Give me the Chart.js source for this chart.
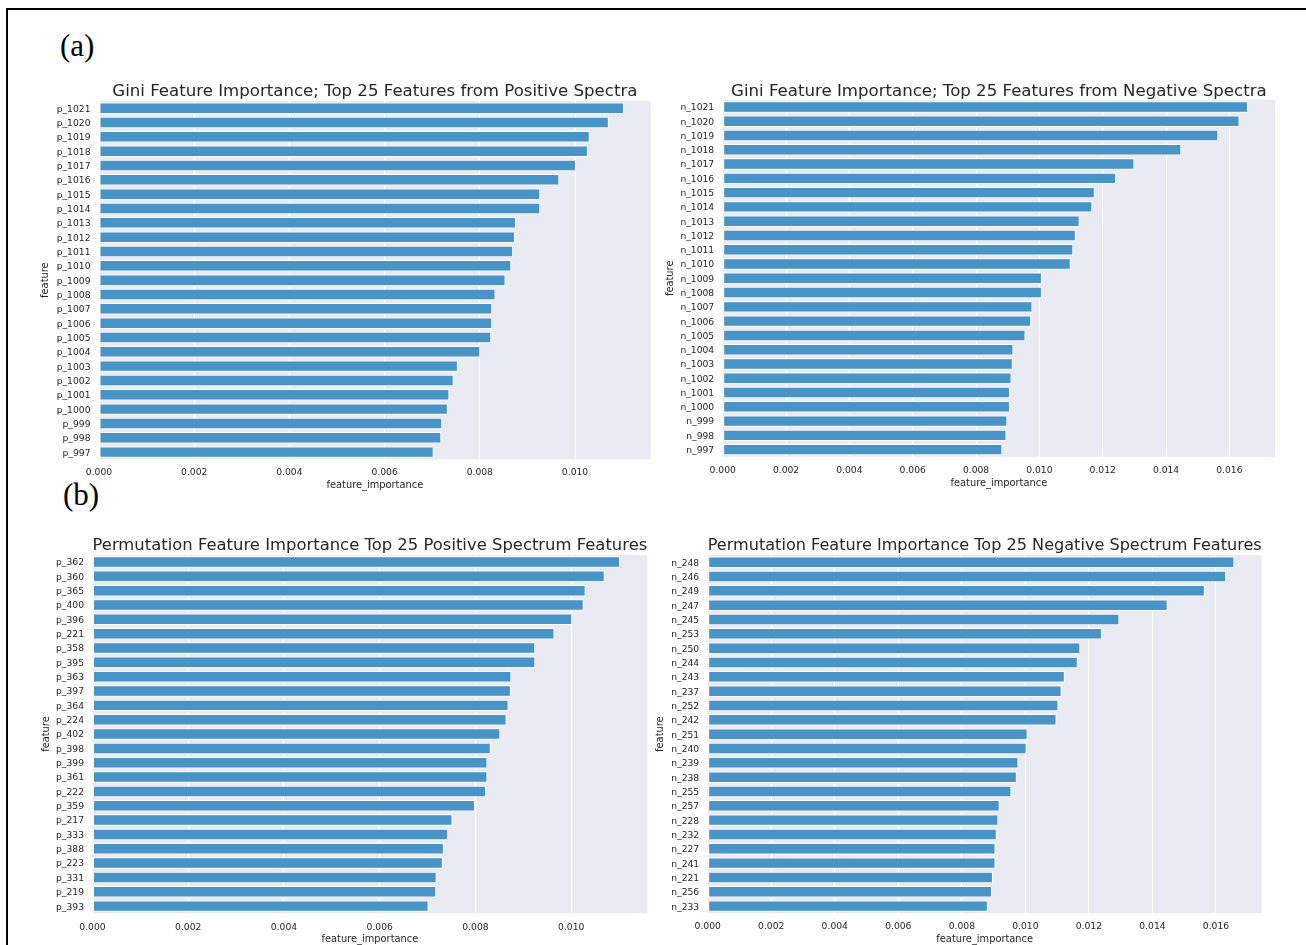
<!DOCTYPE html>
<html>
<head>
<meta charset="utf-8">
<title>Feature importance</title>
<script src="https://cdn.jsdelivr.net/npm/chart.js@4/dist/chart.umd.min.js"></script>
<style>
  html, body { margin: 0; padding: 0; background: #ffffff; }
  body { width: 1306px; height: 945px; position: relative; overflow: hidden; }
  .frame { position: absolute; left: 6px; top: 8px; width: 1400px; height: 1000px;
           border-top: 2px solid #000; border-left: 2px solid #000; box-sizing: border-box; }
  .tag { position: absolute; font-family: "Liberation Serif", "Times New Roman", serif;
         font-size: 31px; line-height: 31px; color: #000; white-space: nowrap; }
  canvas { position: absolute; }
</style>
</head>
<body>
<div class="frame"></div>
<div class="tag" style="left:60px; top:29.5px;">(a)</div>
<div class="tag" style="left:63px; top:479px;">(b)</div>
<canvas id="giniPos"></canvas>
<canvas id="giniNeg"></canvas>
<canvas id="permPos"></canvas>
<canvas id="permNeg"></canvas>

<script>
// ---- data -------------------------------------------------------------
const giniPosFeatures = ['p_1021','p_1020','p_1019','p_1018','p_1017','p_1016','p_1015','p_1014','p_1013',
  'p_1012','p_1011','p_1010','p_1009','p_1008','p_1007','p_1006','p_1005','p_1004','p_1003','p_1002',
  'p_1001','p_1000','p_999','p_998','p_997'];
const giniPosValues = [0.01103, 0.01071, 0.01031, 0.01027, 0.01002, 0.00967, 0.00927, 0.00927, 0.00876,
  0.00874, 0.00870, 0.00866, 0.00854, 0.00833, 0.00826, 0.00826, 0.00824, 0.00801, 0.00754, 0.00745,
  0.00736, 0.00733, 0.00721, 0.00719, 0.00703];

const giniNegFeatures = ['n_1021','n_1020','n_1019','n_1018','n_1017','n_1016','n_1015','n_1014','n_1013',
  'n_1012','n_1011','n_1010','n_1009','n_1008','n_1007','n_1006','n_1005','n_1004','n_1003','n_1002',
  'n_1001','n_1000','n_999','n_998','n_997'];
const giniNegValues = [0.01659, 0.01632, 0.01565, 0.01448, 0.01300, 0.01242, 0.01175, 0.01167, 0.01127,
  0.01115, 0.01107, 0.01099, 0.01008, 0.01008, 0.00978, 0.00974, 0.00956, 0.00918, 0.00916, 0.00912,
  0.00907, 0.00907, 0.00899, 0.00896, 0.00883];

const permPosFeatures = ['p_362','p_360','p_365','p_400','p_396','p_221','p_358','p_395','p_363','p_397',
  'p_364','p_224','p_402','p_398','p_399','p_361','p_222','p_359','p_217','p_333','p_388','p_223',
  'p_331','p_219','p_393'];
const permPosValues = [0.01102, 0.01070, 0.01030, 0.01026, 0.01002, 0.00965, 0.00925, 0.00925, 0.00875,
  0.00874, 0.00869, 0.00865, 0.00852, 0.00832, 0.00825, 0.00825, 0.00822, 0.00799, 0.00752, 0.00743,
  0.00734, 0.00732, 0.00719, 0.00718, 0.00702];

const permNegFeatures = ['n_248','n_246','n_249','n_247','n_245','n_253','n_250','n_244','n_243','n_237',
  'n_252','n_242','n_251','n_240','n_239','n_238','n_255','n_257','n_228','n_232','n_227','n_241',
  'n_221','n_256','n_233'];
const permNegValues = [0.01658, 0.01632, 0.01565, 0.01448, 0.01296, 0.01241, 0.01173, 0.01165, 0.01124,
  0.01114, 0.01104, 0.01098, 0.01007, 0.01004, 0.00978, 0.00973, 0.00956, 0.00919, 0.00915, 0.00910,
  0.00906, 0.00906, 0.00898, 0.00895, 0.00882];

// x-axis upper limits (max value with a 5% margin)
const posAxisMax = 0.01159;
const negAxisMax = 0.01744;
const tickStep = 0.002;

// ---- styling ----------------------------------------------------------
const FONT = "'DejaVu Sans', 'Liberation Sans', sans-serif";
const TEXT = '#262626';
const BAR = '#4994c6';
const PLOT_BG = '#eaeaf2';
const TITLE_SIZE = 16.6, TICK_SIZE = 9.2, LABEL_SIZE = 9.85, LH = 1.2;
// canvas 'middle' baseline sits a little above the visual glyph centre
const TITLE_NUDGE = 2, XTICK_NUDGE = 2, YTICK_NUDGE = 1, XTITLE_NUDGE = 1;

// page placement of each panel: plot box edges and text centre lines
const panels = [
  { id: 'giniPos', title: 'Gini Feature Importance; Top 25 Features from Positive Spectra',
    labels: giniPosFeatures, values: giniPosValues, xMax: posAxisMax,
    box: { featureX: 46, left: 99, right: 650.7, top: 101, bottom: 459.3, titleY: 90, tickY: 470.5, xTitleY: 484 } },
  { id: 'giniNeg', title: 'Gini Feature Importance; Top 25 Features from Negative Spectra',
    labels: giniNegFeatures, values: giniNegValues, xMax: negAxisMax,
    box: { featureX: 671, left: 722.7, right: 1275, top: 99.8, bottom: 456.8, titleY: 89.5, tickY: 469, xTitleY: 482 } },
  { id: 'permPos', title: 'Permutation Feature Importance Top 25 Positive Spectrum Features',
    labels: permPosFeatures, values: permPosValues, xMax: posAxisMax,
    box: { featureX: 46.5, left: 92.5, right: 647.3, top: 554.8, bottom: 913.3, titleY: 544, tickY: 925.5, xTitleY: 938 } },
  { id: 'permNeg', title: 'Permutation Feature Importance Top 25 Negative Spectrum Features',
    labels: permNegFeatures, values: permNegValues, xMax: negAxisMax,
    box: { featureX: 661, left: 707.7, right: 1261.7, top: 555, bottom: 913.3, titleY: 544, tickY: 925, xTitleY: 938 } }
];

// grey plotting area behind the grid and bars
const plotBackground = {
  id: 'plotBackground',
  beforeDraw(chart) {
    const { ctx, chartArea: a } = chart;
    ctx.save();
    ctx.fillStyle = PLOT_BG;
    ctx.fillRect(a.left, a.top, a.right - a.left, a.bottom - a.top);
    ctx.restore();
  }
};

function drawPanel(p) {
  const b = p.box;
  const titleLH = TITLE_SIZE * LH, labelLH = LABEL_SIZE * LH, tickLH = TICK_SIZE * LH;
  const titleY = b.titleY + TITLE_NUDGE;
  const xTitleY = b.xTitleY + XTITLE_NUDGE;
  const left = Math.round(b.featureX - labelLH / 2);
  const top = Math.floor(titleY - titleLH / 2);
  const width = Math.ceil(b.right + 4 - left);
  const height = Math.ceil(xTitleY + labelLH / 2 - top);

  const canvas = document.getElementById(p.id);
  canvas.width = width;
  canvas.height = height;
  canvas.style.left = left + 'px';
  canvas.style.top = top + 'px';
  canvas.style.width = width + 'px';
  canvas.style.height = height + 'px';

  const titlePadTop = titleY - titleLH / 2 - top;
  const titlePadBottom = b.top - top - titlePadTop - titleLH;
  const yAxisWidth = b.left - left;
  const xAxisHeight = top + height - b.bottom;
  const xTitlePadBottom = top + height - (xTitleY + labelLH / 2);
  const xTickPad = b.tickY + XTICK_NUDGE - b.bottom - tickLH / 2;

  const tickFont = { family: FONT, size: TICK_SIZE, lineHeight: LH };
  const labelFont = { family: FONT, size: LABEL_SIZE, lineHeight: LH };

  new Chart(canvas, {
    type: 'bar',
    data: {
      labels: p.labels,
      datasets: [{
        data: p.values,
        backgroundColor: BAR,
        borderColor: '#ffffff',
        borderWidth: 1,
        borderSkipped: false,
        barPercentage: 0.8,
        categoryPercentage: 1.0
      }]
    },
    options: {
      indexAxis: 'y',
      responsive: false,
      animation: false,
      devicePixelRatio: 1,
      layout: { padding: { left: 0, top: 0, bottom: 0, right: left + width - b.right } },
      plugins: {
        legend: { display: false },
        tooltip: { enabled: false },
        title: {
          display: true,
          text: p.title,
          fullSize: false,
          color: TEXT,
          font: { family: FONT, size: TITLE_SIZE, weight: 'normal', lineHeight: LH },
          padding: { top: titlePadTop, bottom: titlePadBottom }
        }
      },
      scales: {
        x: {
          type: 'linear',
          min: 0,
          max: p.xMax,
          border: { display: false },
          grid: { color: '#ffffff', lineWidth: 1, drawTicks: false },
          ticks: {
            stepSize: tickStep,
            includeBounds: false,
            autoSkip: false,
            maxRotation: 0,
            padding: xTickPad,
            color: TEXT,
            font: tickFont,
            callback: v => Number(v).toFixed(3)
          },
          title: {
            display: true,
            text: 'feature_importance',
            color: TEXT,
            font: labelFont,
            padding: { top: 0, bottom: xTitlePadBottom }
          },
          afterFit(scale) { scale.height = xAxisHeight; }
        },
        y: {
          type: 'category',
          offset: true,
          border: { display: false },
          grid: { display: false, drawTicks: false },
          ticks: { autoSkip: false, padding: 8.5, labelOffset: YTICK_NUDGE, color: TEXT, font: tickFont },
          title: {
            display: true,
            text: 'feature',
            color: TEXT,
            font: labelFont,
            padding: { top: 0, bottom: 0 }
          },
          afterFit(scale) { scale.width = yAxisWidth; }
        }
      }
    },
    plugins: [plotBackground]
  });
}

panels.forEach(drawPanel);
</script>
</body>
</html>
